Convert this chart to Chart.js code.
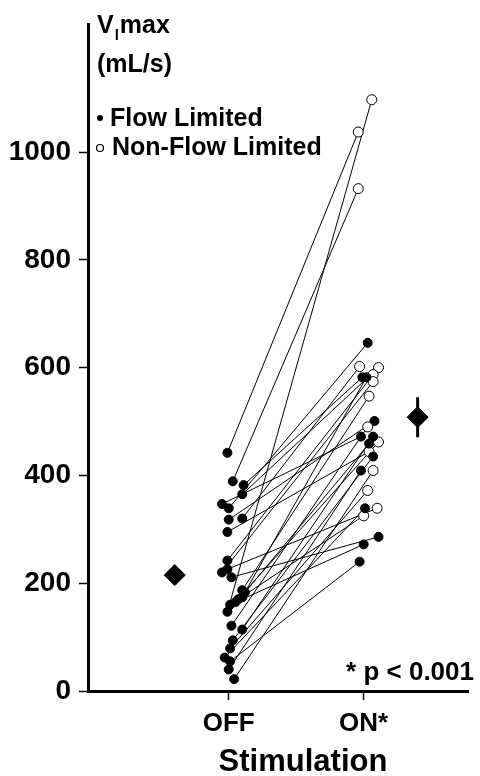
<!DOCTYPE html>
<html>
<head>
<meta charset="utf-8">
<script src="https://cdn.jsdelivr.net/npm/chart.js@4.4.1/dist/chart.umd.min.js"></script>
<style>
  html, body { margin: 0; padding: 0; background: #fff; }
</style>
</head>
<body>
<canvas id="chart" width="480" height="776"></canvas>
<script>
// categories and tick labels
const xLabels = ['OFF', 'ON*'];
const yTicks = [0, 200, 400, 600, 800, 1000];

// paired subjects: value with stimulation OFF and ON (mL/s)
const offValues = [442, 389, 147, 339, 382, 365, 347, 320, 318, 295, 242, 226, 220, 211,
                   187, 183, 174, 170, 165, 160, 121, 114, 94, 79, 62, 55, 40, 22];
const offJitter = [-0.01, 0.03, -0.01, 0.0, 0.11, 0.1, -0.05, 0.1, 0.0, -0.01, -0.01, -0.01, -0.05, 0.02,
                   0.1, 0.12, 0.1, 0.07, 0.05, 0.01, 0.02, 0.1, 0.03, 0.01, -0.03, 0.01, 0.0, 0.04];
const onValues = [1037, 932, 1097, 646, 582, 600, 472, 602, 501, 444, 587, 339, 574, 286,
                  547, 459, 582, 325, 462, 272, 490, 472, 435, 372, 339, 240, 409, 409];
const onJitter = [-0.04, -0.04, 0.06, 0.03, -0.01, 0.11, -0.02, -0.03, 0.08, 0.04, 0.07, 0.1, 0.07, 0.11,
                  0.04, 0.04, 0.02, 0.0, 0.11, 0.0, 0.03, 0.07, 0.07, 0.03, 0.01, -0.03, -0.02, 0.07];
const onFlowLimited = [false, false, false, true, true, false, true, false, true, false, false, false, false, true,
                       false, true, true, false, false, true, false, true, true, false, true, true, true, false];

// group means with error bars
const meanX = [0.6, 2.4];
const meanValues = [215, 508];
const meanErrors = [18, 37];

const datasets = [];

offValues.forEach((v, i) => {
  datasets.push({
    type: 'line',
    data: [{x: 1 + offJitter[i], y: v}, {x: 2 + onJitter[i], y: onValues[i]}],
    borderColor: '#000',
    borderWidth: 1,
    pointRadius: 0,
    order: 3
  });
});

meanValues.forEach((m, i) => {
  datasets.push({
    type: 'line',
    data: [{x: meanX[i], y: m - meanErrors[i]}, {x: meanX[i], y: m + meanErrors[i]}],
    borderColor: '#000',
    borderWidth: 3,
    pointRadius: 0,
    order: 2
  });
});

datasets.push({
  type: 'scatter',
  data: offValues.map((v, i) => ({x: 1 + offJitter[i], y: v})),
  pointRadius: 4.5,
  pointBackgroundColor: '#000',
  pointBorderColor: '#000',
  order: 1
});

datasets.push({
  type: 'scatter',
  data: onValues.map((v, i) => ({x: 2 + onJitter[i], y: v})),
  pointRadius: onFlowLimited.map(f => f ? 4.5 : 5),
  pointBackgroundColor: onFlowLimited.map(f => f ? '#000' : '#fff'),
  pointBorderColor: '#000',
  pointBorderWidth: 1,
  order: 1
});

datasets.push({
  type: 'scatter',
  data: meanValues.map((m, i) => ({x: meanX[i], y: m})),
  pointStyle: 'rectRot',
  pointRadius: 10.5,
  pointBackgroundColor: '#000',
  pointBorderColor: '#000',
  order: 1
});

const FONT = '"Liberation Sans", Arial, sans-serif';

// texts that sit inside the plot: axis title, key, p value, x title
const annotations = {
  id: 'annotations',
  afterDraw(chart) {
    const ctx = chart.ctx;
    ctx.save();
    ctx.fillStyle = '#000';
    ctx.strokeStyle = '#000';
    ctx.textAlign = 'left';
    ctx.textBaseline = 'alphabetic';

    ctx.font = 'bold 25px ' + FONT;
    ctx.fillText('V', 97, 33);
    let w = ctx.measureText('V').width;
    ctx.font = 'bold 15px ' + FONT;
    ctx.fillText('l', 97 + w + 1, 40);
    let w2 = ctx.measureText('l').width;
    ctx.font = 'bold 25px ' + FONT;
    ctx.fillText('max', 97 + w + w2 + 2, 33);
    ctx.fillText('(mL/s)', 97, 72);

    ctx.beginPath();
    ctx.arc(100, 118, 3, 0, Math.PI * 2);
    ctx.fill();
    ctx.fillText('Flow Limited', 110, 126);

    ctx.beginPath();
    ctx.lineWidth = 1.2;
    ctx.arc(100, 148, 3.5, 0, Math.PI * 2);
    ctx.stroke();
    ctx.fillText('Non-Flow Limited', 112, 155);

    ctx.font = 'bold 26px ' + FONT;
    ctx.textAlign = 'right';
    ctx.fillText('* p < 0.001', 474, 680);

    ctx.font = 'bold 31px ' + FONT;
    ctx.textAlign = 'center';
    ctx.fillText('Stimulation', 303, 771);
    ctx.restore();
  }
};

new Chart(document.getElementById('chart'), {
  data: {datasets},
  options: {
    responsive: false,
    animation: false,
    devicePixelRatio: 1,
    layout: {padding: {top: 15, right: 0, left: 0, bottom: 0}},
    plugins: {legend: {display: false}, tooltip: {enabled: false}},
    scales: {
      x: {
        type: 'linear',
        min: -0.0432,
        max: 2.777,
        afterBuildTicks: s => { s.ticks = [{value: 1}, {value: 2}]; },
        afterFit: s => { s.height = 85; },
        ticks: {
          callback: v => xLabels[v - 1],
          color: '#000',
          font: {family: FONT, size: 26, weight: 'bold'},
          padding: 8,
          maxRotation: 0
        },
        grid: {drawOnChartArea: false, tickLength: 9, tickColor: '#000', tickWidth: 1.5},
        border: {display: true, color: '#000', width: 3}
      },
      y: {
        min: 0,
        max: 1236,
        afterBuildTicks: s => { s.ticks = yTicks.map(v => ({value: v})); },
        afterFit: s => { s.width = 88; },
        ticks: {
          callback: v => String(v),
          color: '#000',
          font: {family: FONT, size: 28, weight: 'bold'},
          padding: 8
        },
        grid: {drawOnChartArea: false, tickLength: 9, tickColor: '#000', tickWidth: 1.5},
        border: {display: true, color: '#000', width: 3}
      }
    }
  },
  plugins: [annotations]
});
</script>
</body>
</html>
